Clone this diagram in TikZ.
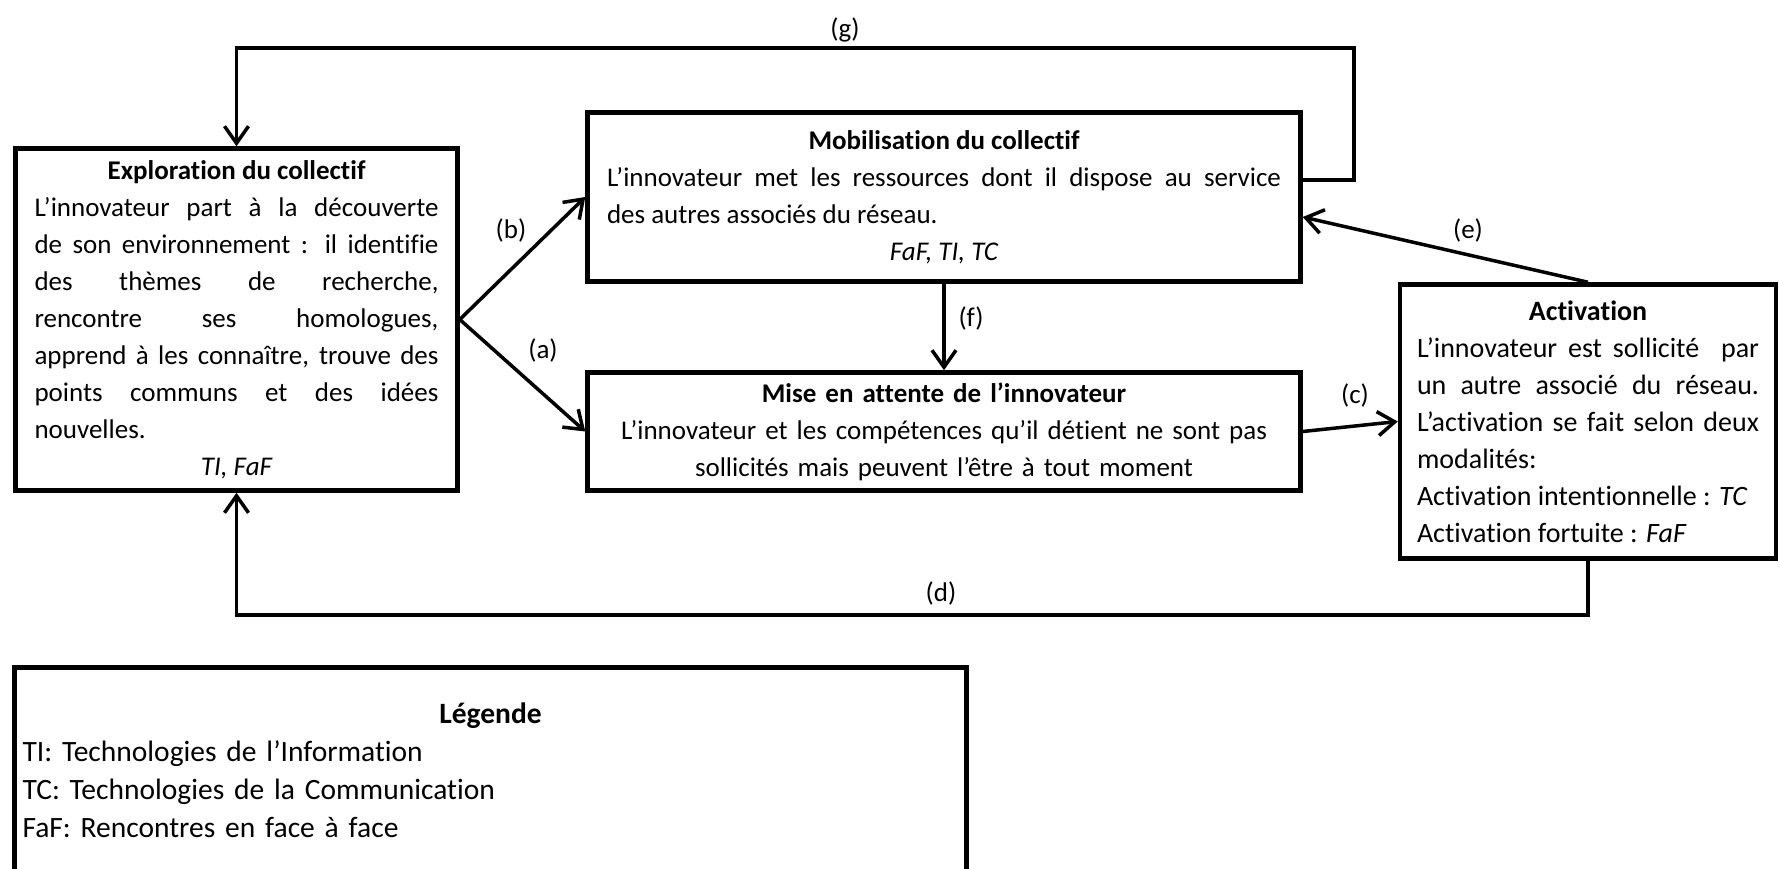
\documentclass[tikz,border=0pt]{standalone}
\usepackage{fontspec}
\setmainfont{Carlito}[Ligatures=NoCommon]
\usetikzlibrary{arrows.meta,positioning}
\setlength{\parindent}{0pt}
\setlength{\parskip}{0pt}

\begin{document}
\begin{tikzpicture}[x=1pt, y=-1pt,
  etape/.style={draw, line width=4.5pt, inner sep=0pt, align=justify,
                font=\fontsize{27}{37}\selectfont},
  fleche/.style={line width=3.5pt, -{Straight Barb[length=17pt,width=24pt]}},
  lettre/.style={inner sep=0pt, font=\fontsize{27}{37}\selectfont}
]
  \useasboundingbox (0,0) rectangle (1780,869);
  \clip (0,0) rectangle (1780,869);

  \node[etape, minimum width=442pt, minimum height=342pt, text width=404pt] (explo) at (236.5,319.5)
    {\centerline{\bfseries Exploration du collectif}
     L’innovateur part à la découverte\linebreak
     de son environnement : il identifie\linebreak
     des thèmes de recherche,\linebreak
     rencontre ses homologues,\linebreak
     apprend à les connaître, trouve des\linebreak
     points communs et des idées\linebreak
     nouvelles.\par
     \centerline{\itshape TI, FaF}};
  \node[etape, minimum width=713pt, minimum height=169pt, text width=674pt] (mobil) at (944,197)
    {\centerline{\bfseries Mobilisation du collectif}
     L’innovateur met les ressources dont il dispose au service\linebreak
     des autres associés du réseau.\par
     \centerline{\itshape FaF, TI, TC}};
  \node[etape, align=center, minimum width=713pt, minimum height=118pt, text width=674pt] (mise) at (944,431.5)
    {\textbf{Mise en attente de l’innovateur}\\
     L’innovateur et les compétences qu’il détient ne sont pas\\
     sollicités mais peuvent l’être à tout moment};
  \node[etape, font=\fontsize{28}{37}\selectfont, minimum width=376pt, minimum height=274pt, text width=342pt] (activ) at (1588,421.5)
    {\centerline{\bfseries Activation}
     L’innovateur est sollicité \ par\linebreak
     un autre associé du réseau.\linebreak
     L’activation se fait selon deux\linebreak
     modalités:\par
     Activation intentionnelle : \textit{TC}\par
     Activation fortuite : \textit{FaF}};
  \node[etape, align=left, font=\fontsize{29.5}{38}\selectfont, minimum width=952pt, minimum height=205pt, text width=936pt] (legende) at (490.5,770)
    {\centerline{\bfseries Légende}
     TI: Technologies de l’Information\par
     TC: Technologies de la Communication\par
     FaF: Rencontres en face à face};

  \coordinate (gcoin) at (1354,48);
  \coordinate (dcoin) at (1588,615);

  \draw[fleche] (explo.east) -- (mobil.west);
  \draw[fleche] (explo.east) -- (mise.west);
  \draw[fleche] (mise.east) -- (activ.west);
  \draw[fleche] (activ.south) -- (dcoin) -| (explo.south);
  \draw[fleche] (activ.north) -- ([yshift=-20pt]mobil.east);
  \draw[fleche] (mobil.south) -- (mise.north);
  \draw[fleche] ([yshift=17pt]mobil.east) -| (gcoin) -| (explo.north);

  \node[lettre] (la) at (543,350) {(a)};
  \node[lettre] (lb) at (511,230) {(b)};
  \node[lettre] (lc) at (1355,395) {(c)};
  \node[lettre] (ld) at (941,593) {(d)};
  \node[lettre] (le) at (1468,230) {(e)};
  \node[lettre] (lf) at (971,318) {(f)};
  \node[lettre] (lg) at (845,30) {(g)};
\end{tikzpicture}
\end{document}
